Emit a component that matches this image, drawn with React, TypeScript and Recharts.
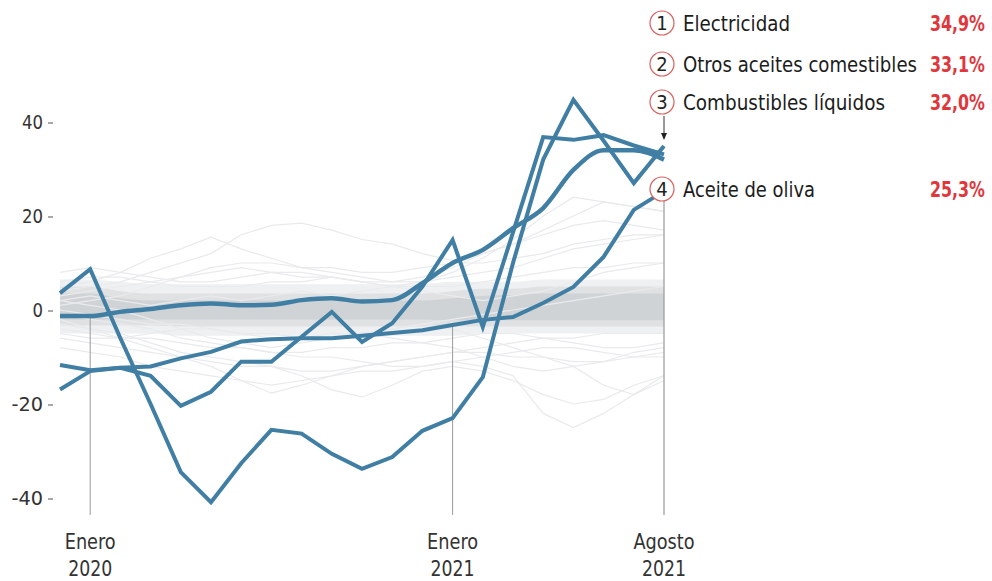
import { ComposedChart, Line, Area, XAxis, YAxis, ReferenceLine } from 'recharts';

// months: dic 2019 .. ago 2021 (index 0..20)
const months = [
  'dic-19', 'ene-20', 'feb-20', 'mar-20', 'abr-20', 'may-20', 'jun-20', 'jul-20',
  'ago-20', 'sep-20', 'oct-20', 'nov-20', 'dic-20', 'ene-21', 'feb-21', 'mar-21',
  'abr-21', 'may-21', 'jun-21', 'jul-21', 'ago-21',
];

const electricidad = [3.6, 8.7, -6, -20, -34.5, -40.9, -32.6, -25.5, -26.3, -30.6, -33.8, -31.3, -25.7, -23, -14.3, 10, 32, 44.7, 36, 27, 34.9];
const otrosAceites = [-11.7, -12.8, -12.3, -14, -20.4, -17.4, -11, -11, -5.7, -0.4, -6.8, -2.8, 5, 14.9, -3.6, 16.5, 36.8, 36.2, 37.2, 35, 33.1];
const aceiteOliva = [-16.9, -13, -12.3, -12, -10.3, -8.9, -6.7, -6.2, -6, -6, -5.5, -4.9, -4.3, -3.2, -2.1, -1.5, 1.5, 4.9, 11.3, 21.3, 25.3];
const combustibles = [-1.3, -1.3, -0.4, 0.2, 1, 1.4, 1, 1.1, 2.1, 2.5, 1.8, 2.1, 5.7, 10, 12.8, 17.4, 21.7, 29.8, 34, 34, 32];

// dense grey band formed by the remaining items (outer, middle, inner)
const bandOuterHi = [6.5, 6.5, 6, 5.5, 5.5, 5.5, 5.5, 5.5, 5.5, 5.5, 5.5, 5.5, 5.5, 6, 6, 6, 6.5, 6.5, 6.5, 6.5, 6.5];
const bandOuterLo = [-5, -5, -5, -5, -5.5, -5.5, -5.5, -5.5, -5.5, -5.5, -5.5, -5.5, -5.5, -5.5, -5, -5, -5, -5, -5, -5, -5];
const bandMidHi = [5, 5, 4, 3.5, 3.5, 3.5, 3.5, 3.5, 3.5, 3.5, 3.5, 3.5, 3.5, 4, 4.5, 4.5, 5, 5, 5, 5, 5];
const bandMidLo = [-3.3, -3.3, -3.3, -3.3, -3.5, -3.5, -3.5, -3.5, -3.5, -3.5, -3.5, -3.5, -3.5, -3.5, -3.5, -3.5, -3.5, -3.5, -3.5, -3.5, -3.5];
const bandInnerHi = [3.5, 3.5, 2.5, 2, 2, 2, 2, 2, 2, 2, 2, 2, 2, 2.5, 3, 3.2, 3.5, 3.5, 3.5, 3.5, 3.5];
const bandInnerLo = [-2, -2, -2, -2, -2, -2, -2, -2, -2, -2, -2, -2, -2, -2.2, -2.2, -2.2, -2.2, -2.2, -2.2, -2.2, -2.2];

// scattered grey lines
const greyLines = [
  [5, 6, 8, 11, 13, 15.5, 13, 11, 9, 8, 7, 6, 6, 7, 8, 9, 11, 13, 14, 15, 16],
  [4, 5, 6, 8, 10, 12, 16, 18, 18.5, 17, 15, 14, 12, 10.5, 12, 14, 17, 20, 23, 22, 21],
  [2, 3, 2, 1, 2, 3, 2, 3, 4, 3, 4, 5, 6, 8, 11, 15, 20, 24, 23, 22, 21],
  [3, 4, 5, 6, 7, 8, 9, 8, 7, 7, 6, 6, 7, 9, 12, 14, 16, 18, 19, 18, 17],
  [1, 2, 3, 5, 7, 9, 10, 10, 9, 9, 8, 8, 9, 10, 10, 11, 12, 14, 15, 16, 16],
  [-2, -4, -6, -8, -10, -12, -15, -17.7, -16, -14, -12, -11, -10, -9, -8, -7, -6, -6, -5, -5, -5],
  [-3, -4, -5, -7, -9, -10, -11, -12, -14, -17, -18.5, -16, -13, -12, -13, -15, -18, -20, -19, -16, -14],
  [-1, -2, -3, -4, -6, -7, -8, -9, -10, -10, -11, -12, -12, -11, -12, -14, -22, -25, -22, -18, -15],
  [-4, -5, -6, -6, -7, -8, -8, -9, -9, -8, -8, -7, -7, -8, -10, -12, -13, -12, -16, -18, -14],
  [-6, -7, -8, -9, -10, -11, -12, -12, -13, -13, -12, -11, -10, -9, -9, -10, -10, -11, -11, -10, -9],
  [6, 7, 7, 6, 5, 5, 5, 6, 6, 7, 6, 5, 5, 5, 6, 7, 8, 9, 9, 10, 10],
  [-5, -6, -6, -5, -4, -4, -5, -6, -6, -5, -5, -6, -7, -6, -5, -5, -6, -7, -8, -8, -7],
  [2, 1, 0, -2, -4, -6, -7, -8, -7, -6, -5, -4, -3, -2, -1, 0, 1, 2, 3, 4, 5],
  [8, 9, 8, 7, 6, 6, 7, 8, 8, 7, 6, 5, 4, 3, 2, 3, 4, 6, 8, 9, 10],
  [-8, -9, -10, -12, -13, -14, -15, -16, -15, -14, -13, -13, -12, -11, -10, -9, -8, -8, -9, -10, -10],
  [0, -1, -2, -3, -3, -4, -5, -5, -6, -6, -5, -4, -3, -4, -6, -8, -10, -12, -11, -9, -8],
];

const yTicks = [-40, -20, 0, 20, 40];
const xTicks = [1, 13, 20];
const xTickLabels: Record<number, [string, string]> = {
  1: ['Enero', '2020'],
  13: ['Enero', '2021'],
  20: ['Agosto', '2021'],
};

const legend = [
  { n: '1', name: 'Electricidad', value: '34,9%', y: 23, w: 107 },
  { n: '2', name: 'Otros aceites comestibles', value: '33,1%', y: 64, w: 234 },
  { n: '3', name: 'Combustibles líquidos', value: '32,0%', y: 102, w: 202 },
  { n: '4', name: 'Aceite de oliva', value: '25,3%', y: 189, w: 132 },
];

const FONT = "'DejaVu Sans', sans-serif";
const NARROW = { fontStretch: 'condensed' as const };
const BLUE = '#407fa3';
const RED = '#e0363c';

const data = months.map((m, i) => {
  const row: Record<string, any> = {
    i,
    month: m,
    electricidad: electricidad[i],
    otrosAceites: otrosAceites[i],
    aceiteOliva: aceiteOliva[i],
    combustibles: combustibles[i],
    bandOuter: [bandOuterLo[i], bandOuterHi[i]],
    bandMid: [bandMidLo[i], bandMidHi[i]],
    bandInner: [bandInnerLo[i], bandInnerHi[i]],
  };
  greyLines.forEach((g, k) => {
    row[`g${k}`] = g[i];
  });
  return row;
});

function YTick({ y, payload }: any) {
  const label = String(payload.value);
  return (
    <g>
      <text
        x={43}
        y={y}
        dy={7}
        textAnchor="end"
        fontSize={20}
        fill="#333"
        fontFamily={FONT}
        style={NARROW}
        textLength={label.length * 10.5}
        lengthAdjust="spacingAndGlyphs"
      >
        {label}
      </text>
      <line x1={48} x2={53} y1={y + 1} y2={y + 1} stroke="#555" strokeWidth={1} />
    </g>
  );
}

function XTick({ x, payload }: any) {
  const [a, b] = xTickLabels[payload.value] ?? ['', ''];
  return (
    <g>
      <text
        x={x}
        y={549}
        textAnchor="middle"
        fontSize={21}
        fill="#333"
        fontFamily={FONT}
        style={NARROW}
        textLength={a.length * 10.2}
        lengthAdjust="spacingAndGlyphs"
      >
        {a}
      </text>
      <text
        x={x}
        y={576}
        textAnchor="middle"
        fontSize={21}
        fill="#333"
        fontFamily={FONT}
        style={NARROW}
        textLength={b.length * 11}
        lengthAdjust="spacingAndGlyphs"
      >
        {b}
      </text>
    </g>
  );
}

export default function App() {
  return (
    <div style={{ position: 'absolute', left: 0, top: 0, width: 992, height: 581, background: '#fff' }}>
      <ComposedChart
        width={992}
        height={581}
        data={data}
        margin={{ top: 84.4, right: 328, bottom: 0, left: 0 }}
      >
        <XAxis
          type="number"
          dataKey="i"
          domain={[0, 20]}
          ticks={xTicks}
          axisLine={false}
          tickLine={false}
          height={64.2}
          tick={XTick}
          interval={0}
        />
        <YAxis
          type="number"
          domain={[-44, 48]}
          ticks={yTicks}
          axisLine={false}
          tickLine={false}
          width={60}
          tick={YTick}
          interval={0}
        />
        <Area type="monotone" dataKey="bandOuter" stroke="none" fill="#eef0f1" fillOpacity={1} isAnimationActive={false} />
        {greyLines.map((_, k) => (
          <Line
            key={k}
            type="linear"
            dataKey={`g${k}`}
            stroke="#e9eaec"
            strokeWidth={1.2}
            dot={false}
            activeDot={false}
            isAnimationActive={false}
          />
        ))}
        <Area type="monotone" dataKey="bandMid" stroke="none" fill="#dfe1e3" fillOpacity={1} isAnimationActive={false} />
        <Area type="monotone" dataKey="bandInner" stroke="none" fill="#d0d3d6" fillOpacity={1} isAnimationActive={false} />
        <ReferenceLine segment={[{ x: 1, y: -1.6 }, { x: 1, y: -43.6 }]} stroke="#9a9a9a" strokeWidth={1} />
        <ReferenceLine segment={[{ x: 13, y: -3.3 }, { x: 13, y: -43.6 }]} stroke="#9a9a9a" strokeWidth={1} />
        <ReferenceLine segment={[{ x: 20, y: 23.4 }, { x: 20, y: -43.6 }]} stroke="#9a9a9a" strokeWidth={1.2} />
        <Line type="linear" dataKey="aceiteOliva" stroke={BLUE} strokeWidth={4} dot={false} activeDot={false} isAnimationActive={false} />
        <Line type="linear" dataKey="otrosAceites" stroke={BLUE} strokeWidth={4} dot={false} activeDot={false} isAnimationActive={false} />
        <Line type="linear" dataKey="electricidad" stroke={BLUE} strokeWidth={4} dot={false} activeDot={false} isAnimationActive={false} />
        <Line type="monotone" dataKey="combustibles" stroke={BLUE} strokeWidth={4.5} dot={false} activeDot={false} isAnimationActive={false} />
      </ComposedChart>
      <svg
        width={992}
        height={581}
        style={{ position: 'absolute', left: 0, top: 0, pointerEvents: 'none' }}
      >
        <line x1={664} y1={116} x2={664} y2={134} stroke="#333" strokeWidth={1} />
        <path d="M661,133 L667,133 L664,140 Z" fill="#222" />
        {legend.map((l) => (
          <g key={l.n}>
            <circle cx={662} cy={l.y} r={12} fill="#fff" stroke="#d9605f" strokeWidth={1.2} />
            <text x={662} y={l.y + 7} textAnchor="middle" fontSize={20} fill="#222" fontFamily={FONT} style={NARROW}>
              {l.n}
            </text>
            <text
              x={683}
              y={l.y + 8}
              fontSize={22}
              fill="#1c1c1c"
              fontFamily={FONT}
              style={NARROW}
              textLength={l.w}
              lengthAdjust="spacingAndGlyphs"
            >
              {l.name}
            </text>
            <text
              x={930}
              y={l.y + 8}
              fontSize={22}
              fontWeight="bold"
              fill={RED}
              fontFamily={FONT}
              style={NARROW}
              textLength={55}
              lengthAdjust="spacingAndGlyphs"
            >
              {l.value}
            </text>
          </g>
        ))}
      </svg>
    </div>
  );
}
